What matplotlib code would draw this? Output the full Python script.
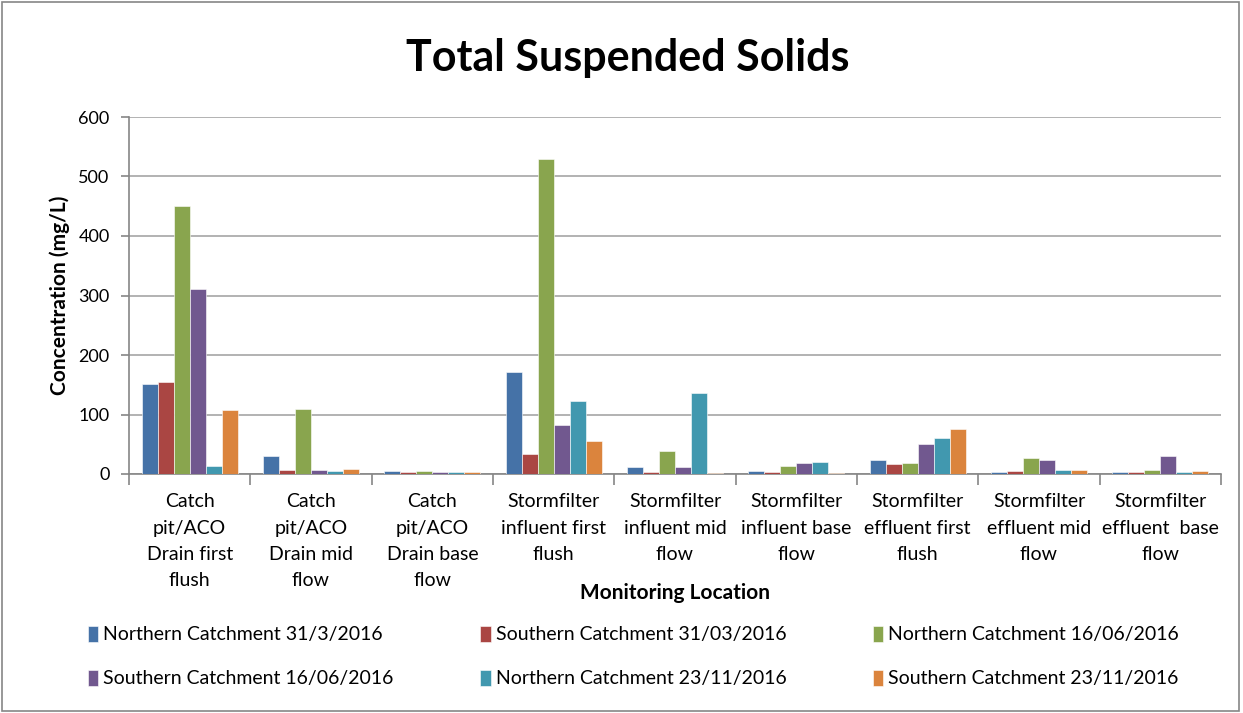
import matplotlib
matplotlib.use("Agg")
import matplotlib.pyplot as plt
import numpy as np

plt.rcParams['font.family'] = ['Lato', 'DejaVu Sans']

categories = ["Catch\npit/ACO\nDrain first\nflush", "Catch\npit/ACO\nDrain mid\nflow",
              "Catch\npit/ACO\nDrain base\nflow", "Stormfilter\ninfluent first\nflush",
              "Stormfilter\ninfluent mid\nflow", "Stormfilter\ninfluent base\nflow",
              "Stormfilter\neffluent first\nflush", "Stormfilter\neffluent mid\nflow",
              "Stormfilter\neffluent  base\nflow"]
series_names = ["Northern Catchment 31/3/2016", "Southern Catchment 31/03/2016",
                "Northern Catchment 16/06/2016", "Southern Catchment 16/06/2016",
                "Northern Catchment 23/11/2016", "Southern Catchment 23/11/2016"]
north_31_3 = [152, 31, 5, 172, 12, 5, 23, 3, 3]
south_31_3 = [155, 7, 3, 33, 3, 3, 17, 5, 3]
north_16_6 = [450, 110, 5, 530, 38, 14, 19, 27, 7]
south_16_6 = [311, 7, 3, 83, 12, 19, 51, 23, 31]
north_23_11 = [14, 5, 3, 122, 136, 21, 60, 7, 3]
south_23_11 = [107, 8, 3, 55, 2, 2, 75, 7, 5]
series = [north_31_3, south_31_3, north_16_6, south_16_6, north_23_11, south_23_11]
colors = ["#4572A7", "#AA4643", "#89A54E", "#71588F", "#4198AF", "#DB843D"]

fig = plt.figure(figsize=(12.43, 7.13), dpi=100)
ax = fig.add_axes([129/1243, 1-474/713, (1221-129)/1243, (474-117)/713])

x = np.arange(len(categories))
n = len(series)
bw = 0.132
handles = []
for i, (vals, c, name) in enumerate(zip(series, colors, series_names)):
    b = ax.bar(x + (i - (n-1)/2) * bw, vals, bw, color=c, label=name,
               edgecolor='white', linewidth=0.4, zorder=3)
    handles.append(b)

ax.set_xlim(-0.5, len(categories) - 0.5)
ax.set_ylim(0, 600)
ax.set_yticks(np.arange(0, 601, 100))
ax.yaxis.grid(True, color='#A6A6A6', linewidth=1.2, zorder=0)
ax.set_xticks(x)
ax.set_xticklabels(categories, fontsize=14, linespacing=1.65)
ax.set_xticks(np.arange(-0.5, len(categories)), minor=True)
ax.tick_params(axis='x', which='major', length=0, pad=14)
ax.tick_params(axis='x', which='minor', length=8, color='#868686', width=1.2)
ax.tick_params(axis='y', length=6, color='#868686', width=1.2, labelsize=13, pad=8)
for s in ['top', 'right']:
    ax.spines[s].set_visible(False)
for s in ['left', 'bottom']:
    ax.spines[s].set_color('#868686')
    ax.spines[s].set_linewidth(1.2)

ax.set_ylabel("Concentration (mg/L)", fontsize=15, fontweight='bold', labelpad=6)
ax.set_xlabel("Monitoring Location", fontsize=15, fontweight='bold', labelpad=-4)
fig.text(628/1243, 1-58/713, "Total Suspended Solids", fontsize=31, fontweight='bold',
         ha='center', va='center')

order = [0, 3, 1, 4, 2, 5]
fig.legend([handles[k] for k in order], [series_names[k] for k in order],
           loc='upper left', bbox_to_anchor=(70/1243, 1-608/713), ncol=3, frameon=False,
           fontsize=14, handlelength=0.55, handleheight=0.9, handletextpad=0.25,
           columnspacing=4.45, labelspacing=1.35)

fig.patches.append(plt.Rectangle((0.002, 0.003), 0.995, 0.994, transform=fig.transFigure,
                                 fill=False, edgecolor='#868686', linewidth=1.2))
fig.savefig("out.png", dpi=100)
